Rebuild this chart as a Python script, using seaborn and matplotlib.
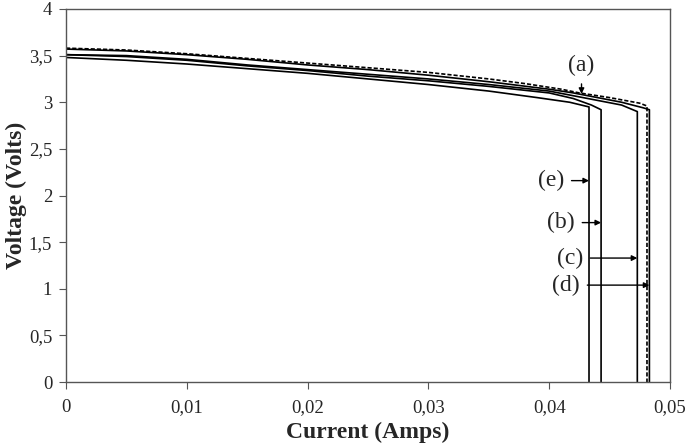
import matplotlib
matplotlib.use("Agg")
import matplotlib.pyplot as plt
import matplotlib.ticker as mticker
import pandas as pd
import seaborn as sns

# Voltage (V) vs current (A) for five cells; each curve falls to 0 at its final current
CURVE_A_X = [0, 0.005, 0.01, 0.015, 0.02, 0.025, 0.03, 0.035, 0.038, 0.041, 0.0425, 0.045, 0.0475, 0.0481, 0.0481]
CURVE_A_V = [3.58, 3.56, 3.52, 3.47, 3.42, 3.37, 3.32, 3.25, 3.20, 3.14, 3.10, 3.05, 2.99, 2.96, 0]

CURVE_B_X = [0, 0.005, 0.01, 0.015, 0.02, 0.025, 0.03, 0.035, 0.04, 0.042, 0.0435, 0.0443, 0.0443]
CURVE_B_V = [3.51, 3.49, 3.45, 3.39, 3.34, 3.28, 3.23, 3.17, 3.10, 3.04, 2.97, 2.92, 0]

CURVE_C_X = [0, 0.005, 0.01, 0.015, 0.02, 0.025, 0.03, 0.035, 0.04, 0.042, 0.044, 0.046, 0.0473, 0.0473]
CURVE_C_V = [3.51, 3.50, 3.46, 3.40, 3.35, 3.30, 3.25, 3.19, 3.12, 3.07, 3.02, 2.97, 2.90, 0]

CURVE_D_X = [0, 0.005, 0.01, 0.015, 0.02, 0.025, 0.03, 0.035, 0.04, 0.042, 0.044, 0.046, 0.0478, 0.0483, 0.0483]
CURVE_D_V = [3.57, 3.55, 3.51, 3.46, 3.40, 3.35, 3.29, 3.22, 3.14, 3.10, 3.05, 3.00, 2.94, 2.92, 0]

CURVE_E_X = [0, 0.005, 0.01, 0.015, 0.02, 0.025, 0.03, 0.035, 0.039, 0.0417, 0.0433, 0.0433]
CURVE_E_V = [3.48, 3.45, 3.41, 3.36, 3.31, 3.25, 3.19, 3.12, 3.05, 3.00, 2.95, 0]

X_TICKS = [0, 0.01, 0.02, 0.03, 0.04, 0.05]
Y_TICKS = [0, 0.5, 1, 1.5, 2, 2.5, 3, 3.5, 4]

# label: (text x, text y, arrow x, arrow y)
LABELS = {
    "(a)": (0.04268, 3.39, 0.04268, 3.09),
    "(e)": (0.04015, 2.16, 0.0433, 2.16),
    "(b)": (0.04098, 1.71, 0.0443, 1.71),
    "(c)": (0.0417, 1.33, 0.0473, 1.33),
    "(d)": (0.0414, 1.04, 0.0483, 1.04),
}


def build_frame() -> pd.DataFrame:
    parts = []
    for name, xs, vs in [("a", CURVE_A_X, CURVE_A_V), ("b", CURVE_B_X, CURVE_B_V),
                         ("c", CURVE_C_X, CURVE_C_V), ("d", CURVE_D_X, CURVE_D_V),
                         ("e", CURVE_E_X, CURVE_E_V)]:
        parts.append(pd.DataFrame({"current": xs, "voltage": vs, "curve": name,
                                   "order": range(len(xs))}))
    return pd.concat(parts, ignore_index=True)


def comma_fmt(val, pos):
    if val == 0:
        return "0"
    return f"{val:g}".replace(".", ",")


def main() -> None:
    sns.set_style("white")
    plt.rcParams["font.family"] = ["Liberation Serif", "DejaVu Serif"]

    df = build_frame()
    fig = plt.figure(figsize=(6.85, 4.48), dpi=100)
    ax = fig.add_axes([0.0964, 0.147, 0.8816, 0.833])

    sns.lineplot(data=df, x="current", y="voltage", units="curve", estimator=None,
                 style="curve", dashes={"a": (2.5, 1.2), "b": "", "c": "", "d": "", "e": ""},
                 sort=False, color="black", linewidth=1.2, legend=False, ax=ax)

    ax.set_xlim(0, 0.05)
    ax.set_ylim(0, 4)
    ax.set_xticks(X_TICKS)
    ax.set_yticks(Y_TICKS)
    ax.xaxis.set_major_formatter(mticker.FuncFormatter(comma_fmt))
    ax.yaxis.set_major_formatter(mticker.FuncFormatter(comma_fmt))
    ax.tick_params(axis="both", direction="out", length=5, width=0.8, color="#555555",
                   labelsize=13.5, bottom=True, left=True, pad=5)
    ax.tick_params(axis="x", pad=7)
    for spine in ax.spines.values():
        spine.set_color("#555555")
        spine.set_linewidth(1.0)

    ax.set_xlabel("Current (Amps)", fontsize=17, fontweight="bold", labelpad=4)
    ax.set_ylabel("Voltage (Volts)", fontsize=17, fontweight="bold", labelpad=1)

    for label, (tx, ty, axx, ayy) in LABELS.items():
        ax.annotate(label, xy=(axx, ayy), xytext=(tx, ty), fontsize=17,
                    ha="center", va="center",
                    arrowprops=dict(arrowstyle="-|>", color="black", lw=1.0,
                                    mutation_scale=8, shrinkA=3, shrinkB=0))

    fig.savefig("out.png", dpi=100)
    plt.close(fig)


if __name__ == "__main__":
    main()
